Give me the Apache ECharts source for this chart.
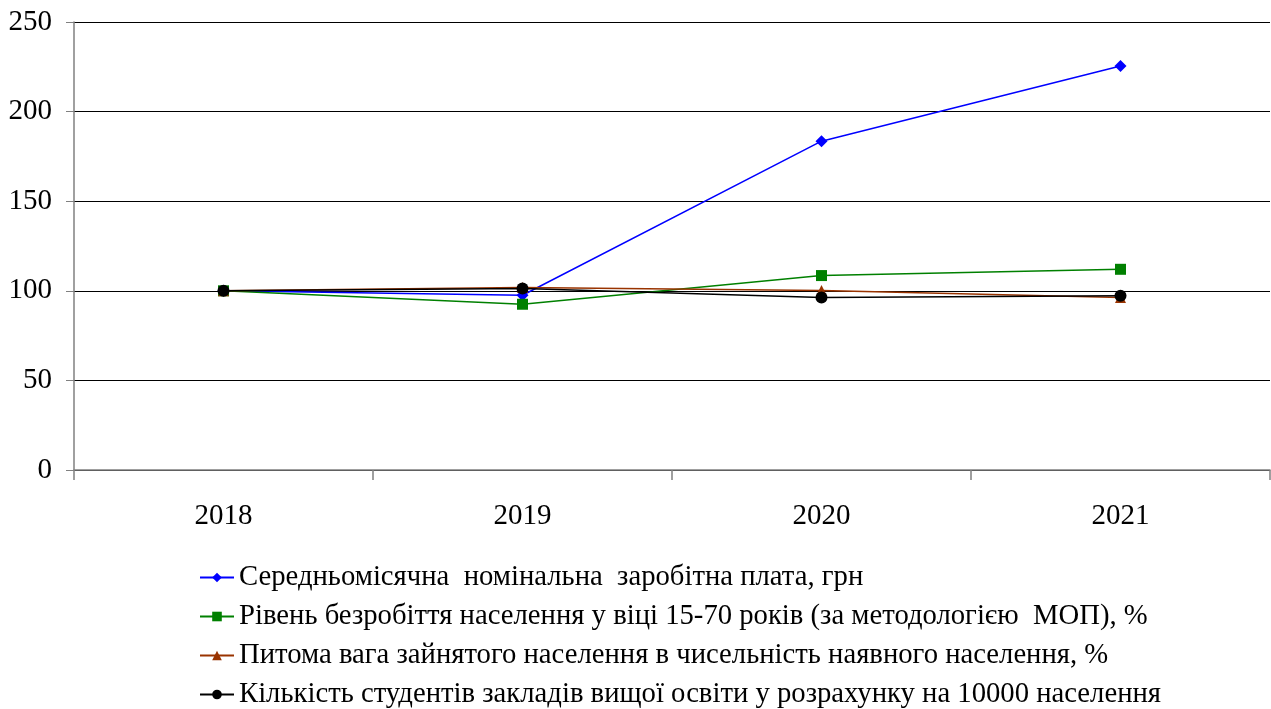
<!DOCTYPE html>
<html><head><meta charset="utf-8">
<script src="https://cdn.jsdelivr.net/npm/echarts@6/dist/echarts.min.js"></script>
<style>html,body{margin:0;padding:0;background:#fff}#c{width:1271px;height:709px}</style>
</head><body><div id="c"></div>
<script>
const categories = ['2018', '2019', '2020', '2021'];
const seriesNames = [
  'Середньомісячна  номінальна  заробітна плата, грн',
  'Рівень безробіття населення у віці 15-70 років (за методологією  МОП), %',
  'Питома вага зайнятого населення в чисельність наявного населення, %',
  'Кількість студентів закладів вищої освіти у розрахунку на 10000 населення'
];
const wage = [100, 97.5, 183.5, 225.5];
const unemployment = [100, 92.5, 108.5, 112];
const employedShare = [100, 101.8, 100.2, 96.2];
const students = [100, 101.3, 96.3, 97.3];
const yTicks = [0, 50, 100, 150, 200, 250];

const font = '"Liberation Serif", "Times New Roman", serif';
const colors = ['#0000ff', '#008000', '#993300', '#000000'];
const symbols = ['diamond', 'rect', 'triangle', 'circle'];
const sizes = [12, 11, 11, 12];
const datasets = [wage, unemployment, employedShare, students];

const chart = echarts.init(document.getElementById('c'), null, {renderer: 'canvas'});
chart.setOption({
  animation: false,
  backgroundColor: '#fff',
  grid: {left: 74, right: 1, top: 22, bottom: 239},
  xAxis: {
    type: 'category', data: categories, boundaryGap: true,
    axisLine: {lineStyle: {color: '#808080', width: 1.5}},
    axisTick: {show: true, length: 10, inside: false, lineStyle: {color: '#808080', width: 1.5}},
    axisLabel: {color: '#000', fontFamily: font, fontSize: 29, margin: 32}
  },
  yAxis: {
    type: 'value', min: yTicks[0], max: yTicks[yTicks.length - 1], interval: 50,
    axisLine: {show: true, lineStyle: {color: '#808080', width: 1.5}},
    axisTick: {show: true, length: 8, lineStyle: {color: '#808080', width: 1}},
    splitLine: {show: true, lineStyle: {color: '#000', width: 1}},
    axisLabel: {color: '#000', fontFamily: font, fontSize: 29, margin: 22}
  },
  legend: {
    orient: 'vertical', left: 194, top: 558, height: 200,
    itemWidth: 34, itemHeight: 12, itemGap: 10,
    textStyle: {color: '#000', fontFamily: font, fontSize: 28.7},
    data: seriesNames
  },
  series: datasets.map((d, i) => ({
    name: seriesNames[i], type: 'line', data: d,
    symbol: symbols[i], symbolSize: sizes[i],
    showAllSymbol: true,
    lineStyle: {color: colors[i], width: 1.5},
    itemStyle: {color: colors[i]},
    z: 10 + i
  }))
});
</script></body></html>
